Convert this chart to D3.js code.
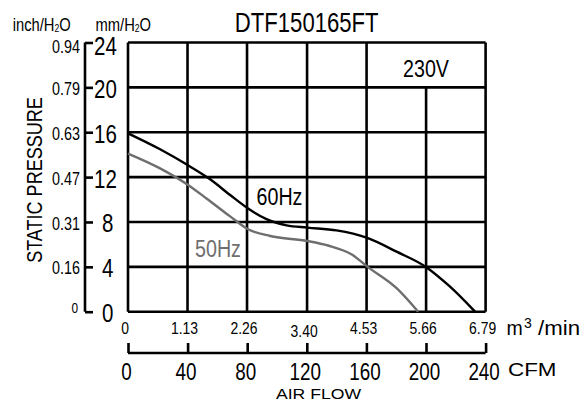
<!DOCTYPE html>
<html><head><meta charset="utf-8">
<script src="https://cdn.jsdelivr.net/npm/d3@7"></script>
<style>
body{margin:0;background:#fff;}
svg{display:block;}
text{font-family:"Liberation Sans",Arial,sans-serif;}
</style></head>
<body><svg id="c" width="581" height="401"></svg>
<script>
// ---- data ----
const title = "DTF150165FT";
const voltage = "230V";
const flowTicksM3 = [0, 1.13, 2.26, 3.40, 4.53, 5.66, 6.79];
const flowLabelsM3 = ["0", "1.13", "2.26", "3.40", "4.53", "5.66", "6.79"];
const flowTicksCFM = [0, 40, 80, 120, 160, 200, 240];
const pressTicksMM = [0, 4, 8, 12, 16, 20, 24];
const pressLabelsInch = ["0", "0.16", "0.31", "0.47", "0.63", "0.79", "0.94"];
const hz60Flow = [0, 0.6, 1.14, 1.56, 1.94, 2.28, 2.63, 3.01, 3.41, 3.96, 4.53, 5.10, 5.67, 6.11, 6.59];
const hz60Press = [15.9, 14.5, 13.05, 11.8, 10.4, 9.2, 8.25, 7.7, 7.5, 7.25, 6.6, 5.35, 3.95, 2.25, 0];
const hz50Flow = [0, 0.6, 1.14, 1.49, 1.94, 2.28, 2.70, 3.41, 3.80, 4.25, 4.55, 5.10, 5.51];
const hz50Press = [14.1, 12.8, 11.3, 10.1, 8.5, 7.35, 6.75, 6.3, 5.9, 5.1, 4.0, 2.1, 0];

// ---- layout ----
const L = 128, R = 485.6, T = 42.5, B = 311.7;
const NS = 0.82; // narrow-font emulation
const svg = d3.select("#c");
const x = d3.scaleLinear().domain([0, 6.79]).range([L, R]);
const xc = d3.scaleLinear().domain([0, 240]).range([L, R]);
const y = d3.scaleLinear().domain([0, 24]).range([B, T]);

function narrow(sel) {
  sel.each(function () {
    const e = d3.select(this);
    const tx = +e.attr("x") || 0, ty = +e.attr("y") || 0;
    e.attr("x", 0).attr("y", 0).attr("transform", `translate(${tx},${ty}) scale(${NS},1)`);
  });
  return sel;
}

// grid
const grid = svg.append("g").attr("stroke", "#000").attr("stroke-width", 2.6).attr("fill", "none");
grid.selectAll("line.h").data(pressTicksMM).join("line")
  .attr("x1", L).attr("x2", R).attr("y1", d => y(d)).attr("y2", d => y(d));
grid.selectAll("line.v").data(flowTicksM3).join("line")
  .attr("x1", d => x(d)).attr("x2", d => x(d))
  .attr("y1", (d, i) => i === 5 ? y(20) : y(24)).attr("y2", B);

// left axis (mm/H2O and inch/H2O)
const ax = svg.append("g").attr("transform", "translate(85,0)")
  .call(d3.axisRight(y).tickValues(pressTicksMM).tickSize(8).tickFormat(""));
ax.select(".domain").attr("d", `M0,${T}V${B}`).attr("stroke-width", 2.6);
ax.selectAll(".tick line").attr("stroke-width", 2.6);
svg.append("g").selectAll("text").data(pressTicksMM).join("text")
  .attr("font-size", 25)
  .attr("x", d => d >= 10 ? 94 : 102).attr("y", d => y(d)).attr("dy", (d, i) => i === 6 ? "0.48em" : "0.42em")
  .text(d => d).call(narrow);
svg.append("g").selectAll("text").data(pressTicksMM).join("text")
  .attr("font-size", (d, i) => i === 0 ? 14.5 : 17.5).attr("text-anchor", "end")
  .attr("x", (d, i) => i === 0 ? 78 : 80).attr("y", d => y(d))
  .attr("dy", (d, i) => i === 0 ? "0.1em" : i === 6 ? "0.58em" : "0.43em")
  .text((d, i) => pressLabelsInch[i]).call(narrow);

function unit(xp, label) {
  const t = svg.append("text").attr("font-size", 18).attr("x", xp).attr("y", 31);
  t.append("tspan").text(label + "/H");
  t.append("tspan").attr("font-size", 10.5).attr("dy", 1).text("2");
  t.append("tspan").attr("dy", -1).text("O");
  narrow(t);
}
unit(12.7, "inch");
unit(95.5, "mm");

svg.append("text").attr("font-size", 27).attr("text-anchor", "middle")
  .attr("x", 306.7).attr("y", 31.5).text(title).call(narrow);
svg.append("text").attr("font-size", 24)
  .attr("x", 403).attr("y", 76.5).text(voltage).call(narrow);
svg.append("text").attr("font-size", 22).attr("text-anchor", "middle")
  .attr("transform", `translate(42,180) rotate(-90) scale(${NS},1)`).text("STATIC PRESSURE");

// curves
const line = d3.line().x(d => x(d[0])).y(d => y(d[1])).curve(d3.curveMonotoneX);
svg.append("path").datum(hz50Flow.map((v, i) => [v, hz50Press[i]]))
  .attr("d", line).attr("fill", "none").attr("stroke", "#6e6e6e").attr("stroke-width", 2.4);
svg.append("path").datum(hz60Flow.map((v, i) => [v, hz60Press[i]]))
  .attr("d", line).attr("fill", "none").attr("stroke", "#000").attr("stroke-width", 2.4);
svg.append("text").attr("font-size", 24).attr("x", 256.5).attr("y", 204.5).text("60Hz").call(narrow);
svg.append("text").attr("font-size", 24).attr("fill", "#6e6e6e").attr("x", 195).attr("y", 257).text("50Hz").call(narrow);

// m3/min labels
svg.append("g").selectAll("text").data(flowTicksM3).join("text")
  .attr("font-size", 17).attr("text-anchor", "middle")
  .attr("x", d => x(d) - 3).attr("y", (d, i) => i === 3 ? 336.5 : 333.5)
  .text((d, i) => flowLabelsM3[i]).call(narrow);
svg.append("text").attr("font-size", 19.5).attr("x", 506.5).attr("y", 335).text("m");
svg.append("text").attr("font-size", 14).attr("x", 524).attr("y", 328).text("3");
svg.append("text").attr("font-size", 19.5).attr("x", 538).attr("y", 335)
  .attr("textLength", 42).attr("lengthAdjust", "spacingAndGlyphs").text("/min");

// CFM axis
const cx = svg.append("g").attr("transform", "translate(0,353)")
  .call(d3.axisTop(xc).tickValues(flowTicksCFM).tickSize(10).tickFormat(""));
cx.select(".domain").attr("d", `M${L},0H${R}`).attr("stroke-width", 2.6);
cx.selectAll(".tick line").attr("stroke-width", 2.6);
svg.append("g").selectAll("text").data(flowTicksCFM).join("text")
  .attr("font-size", 23).attr("text-anchor", "middle")
  .attr("x", d => xc(d) - 1.5).attr("y", 380).text(d => d).call(narrow);
svg.append("text").attr("font-size", 17.5).attr("x", 508).attr("y", 376)
  .attr("textLength", 48.5).attr("lengthAdjust", "spacingAndGlyphs").text("CFM");
svg.append("text").attr("font-size", 15.5).attr("x", 276).attr("y", 398.5)
  .attr("textLength", 85).attr("lengthAdjust", "spacingAndGlyphs").text("AIR FLOW");
</script></body></html>
